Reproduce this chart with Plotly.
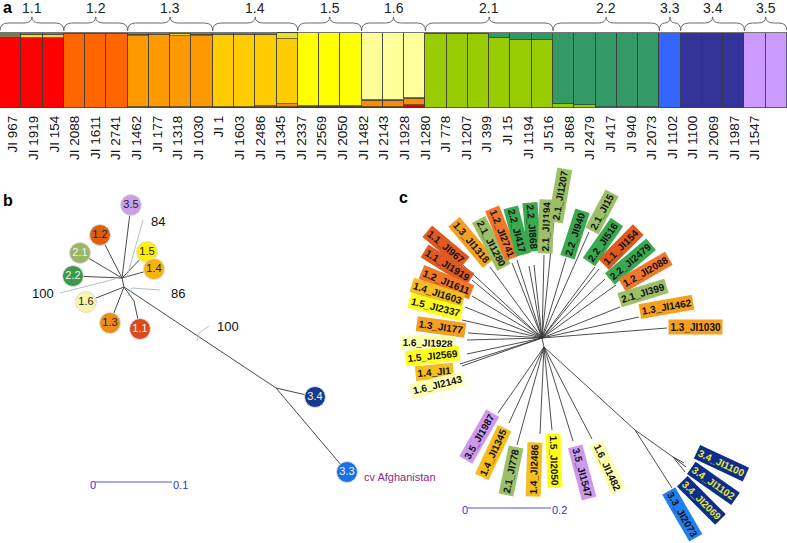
import plotly.graph_objects as go

FONT = "Liberation Sans, Arial, sans-serif"

# ---------------- panel a: admixture bars ----------------
bar_group = (["1.1"] * 3 + ["1.2"] * 3 + ["1.3"] * 4 + ["1.4"] * 4 + ["1.5"] * 3 + ["1.6"] * 3
             + ["2.1"] * 6 + ["2.2"] * 5 + ["3.3"] + ["3.4"] * 3 + ["3.5"] * 2)

sample_labels = ["JI 967", "JI 1919", "JI 154", "JI 2088", "JI 1611", "JI 2741", "JI 1462", "JI 177",
                 "JI 1318", "JI 1030", "JI 1", "JI 1603", "JI 2486", "JI 1345", "JI 2337", "JI 2569",
                 "JI 2050", "JI 1482", "JI 2143", "JI 1928", "JI 1280", "JI 778", "JI 1207", "JI 399",
                 "JI 15", "JI 1194", "JI 516", "JI 868", "JI 2479", "JI 417", "JI 940", "JI 2073",
                 "JI 1102", "JI 1100", "JI 2069", "JI 1987", "JI 1547"]

# small admixture slivers (fractions), one value per bar
bot_red = [0, 0, 0, 0, 0, 0, 0, 0, 0, 0, 0.01, 0.01, 0.015, 0.02, 0.01, 0.01, 0.01, 0.02, 0.02, 0.04] + [0] * 17
bot_orange = [0, 0, 0, 0, 0, 0, 0, 0, 0, 0, 0.01, 0, 0.01, 0.03, 0, 0, 0, 0.07, 0.07, 0.08] + [0] * 17
bot_olive = [0, 0, 0, 0, 0, 0, 0.01, 0.01, 0.01, 0.01, 0, 0, 0, 0, 0.02, 0.02, 0.02, 0.02, 0.02, 0.02] + [0] * 17
bot_lime = [0] * 26 + [0.05, 0.035, 0.02, 0.02, 0.015] + [0] * 6
top_green = [0] * 20 + [0.015, 0.01, 0.01, 0.07, 0.09, 0.09] + [0] * 11
top_yellow = [0, 0.03, 0.04, 0, 0, 0, 0.02, 0.01, 0.03, 0.02, 0, 0, 0, 0.07] + [0] * 23
top_olive = [0.07, 0.03, 0.02, 0.015, 0.01, 0.015, 0.02, 0.02, 0.01, 0.02, 0.02, 0.02, 0.02, 0.005] + [0] * 23

bar_colors = {"1.1": "#FE0000", "1.2": "#FF6600", "1.3": "#FF9900", "1.4": "#FFCC00",
              "1.5": "#FFFF00", "1.6": "#FFFF99", "2.1": "#99CC00", "2.2": "#339966",
              "3.3": "#3366FF", "3.4": "#333399", "3.5": "#CC99FF"}
OLIVE = "#807850"

# ---------------- panel b: cluster tree ----------------
b_names = ["H1", "H2", "J", "K", "3.5", "1.2", "2.1", "2.2", "1.5", "1.4", "1.6", "1.3", "1.1", "3.4", "3.3"]
b_x = [122, 124, 276, 134, 131, 100, 80, 73, 147, 154, 86, 110, 140, 315, 347]
b_y = [278, 287, 388, 301, 205, 235, 253, 276, 252, 269, 302, 323, 329, 397, 472]
b_parent = [None, "H1", "H2", "H2", "H1", "H1", "H1", "H1", "H1", "H1", "H2", "H2", "K", "J", "J"]
b_colors = {"3.5": "#C9A0E8", "1.2": "#DD6010", "2.1": "#9BB565", "2.2": "#3A9A4A", "1.5": "#FFF000",
            "1.4": "#F5B30A", "1.6": "#F8F4A8", "1.3": "#EE8C16", "1.1": "#DD4A1C",
            "3.4": "#143C8C", "3.3": "#1A70E6"}
b_light_text = ["2.1", "2.2", "1.1", "3.4", "3.3"]
boot_vals = ["84", "100", "86", "100"]
boot_text_x = [158, 43, 178, 228]
boot_text_y = [221, 293, 293, 326]
boot_line_x = [[143, 127], [60, 115], [160, 132, 128], [209, 199, 197]]
boot_line_y = [[220, 277], [293, 279], [290, 288, 296], [326, 333, 341]]

# ---------------- panel c: accession tree ----------------
c_labels = ["1.1_JI967", "1.1_JI1919", "1.2_JI1611", "1.4_JI1603", "1.5_JI2337", "1.3_JI177",
            "1.6_JI1928", "1.5_JI2569", "1.4_JI1", "1.6_JI2143", "1.3_JI1318", "2.1_JI1280",
            "1.2_JI2741", "2.2_JI417", "2.2_JI868", "2.1_JI1194", "2.1_JI1207", "2.2_JI940",
            "2.1_JI15", "2.2_JI516", "1.1_JI154", "2.2_JI2479", "1.2_JI2088", "2.1_JI399",
            "1.3_JI1462", "1.3_JI1030", "3.5_JI1987", "1.4_JI1345", "2.1_JI778", "1.4_JI2486",
            "1.5_JI2050", "3.5_JI1547", "1.6_JI1482", "3.4_JI1100", "3.4_JI1102", "3.4_JI2069",
            "3.3_JI2073"]
c_lab_x = [446, 447, 446, 437, 435, 441, 427, 432, 434, 437, 471, 491, 502, 517, 532, 546, 560, 575,
           602, 603, 621, 630, 645, 643, 666, 695, 479, 493, 511, 534, 554, 582, 607, 721, 713, 701, 682]
c_lab_y = [247, 265, 282, 293, 307, 327, 343, 356, 372, 385, 242, 243, 233, 231, 227, 227, 196, 234,
           212, 242, 247, 262, 272, 293, 307, 327, 437, 453, 471, 470, 460, 472, 467, 463, 483, 500, 514]
c_angle = [40, 32, 22, 18, 14, 8, 2, -6, -5, -14, 50, 62, 68, 75, 85, -88, -80, -72,
           -62, -55, -45, -40, -30, -17, -10, 0, -60, -65, -78, -88, 88, 75, 65, 25, 35, 45, 60]
c_tip_x = [463, 472, 472, 465, 462, 468, 467, 467, 460, 462, 490, 512, 517, 529, 534, 544, 554, 566,
           589, 595, 599, 605, 616, 620, 639, 667, 498, 509, 517, 540, 552, 573, 592, 684, 686, 685, 672]
c_tip_y = [265, 280, 296, 307, 320, 333, 340, 354, 364, 366, 267, 263, 260, 266, 265, 255, 220, 258,
           232, 267, 269, 279, 285, 307, 317, 328, 413, 423, 445, 434, 430, 441, 439, 463, 467, 472, 488]
c_hub = ["U"] * 26 + ["L"] * 7 + ["S34"] * 3 + ["S"]
c_hub_names = ["U", "L", "S", "S34"]
c_hub_x = [542, 544, 635, 673]
c_hub_y = [338, 347, 430, 457]
c_hub_parent = [None, "U", "L", "S"]
c_colors = {"1.1": "#E05A20", "1.2": "#F07828", "1.3": "#F5A020", "1.4": "#F5BE1E", "1.5": "#FFFF1A",
            "1.6": "#FFFFB0", "2.1": "#9CC068", "2.2": "#3AAA50", "3.3": "#2080F0", "3.4": "#0C2E8A",
            "3.5": "#CC99EE"}

fig = go.Figure()

# ---- panel a traces ----
n = len(bar_group)
xs = list(range(n))
main = [1 - sum(v) for v in zip(bot_red, bot_orange, bot_olive, bot_lime, top_green, top_yellow, top_olive)]
layers = [(bot_red, "#E00000"), (bot_orange, "#FF8C00"), (bot_olive, OLIVE), (bot_lime, bar_colors["2.1"]),
          (main, [bar_colors[g] for g in bar_group]), (top_green, bar_colors["2.2"]),
          (top_yellow, "#E8E020"), (top_olive, OLIVE)]
for vals, col in layers:
    fig.add_trace(go.Bar(x=xs, y=[v if v > 0 else None for v in vals], marker_color=col,
                         marker_line=dict(color="#3a3a3a", width=0.7), width=1,
                         xaxis="x2", yaxis="y2", showlegend=False, hoverinfo="skip"))
# carrier for the sample label axis
fig.add_trace(go.Scatter(x=[0, n - 1], y=[0.5, 0.5], mode="markers", marker_opacity=0,
                         xaxis="x3", yaxis="y2", showlegend=False, hoverinfo="skip"))

shapes = []
annotations = []
groups = []
for g in bar_group:
    if g not in groups:
        groups.append(g)
start = 0
for g in groups:
    cnt = bar_group.count(g)
    xa, xb = start - 0.5, start + cnt - 0.5
    xm = (xa + xb) / 2
    d = min(0.38, cnt / 4)
    path = (f"M {xa},1.03 Q {xa},1.133 {xa + d},1.133 L {xm - d},1.133 Q {xm},1.133 {xm},1.215 "
            f"Q {xm},1.133 {xm + d},1.133 L {xb - d},1.133 Q {xb},1.133 {xb},1.03")
    shapes.append(dict(type="path", path=path, xref="x2", yref="y2",
                       line=dict(color="#6a6a6a", width=1)))
    annotations.append(dict(x=xm, y=1.335, xref="x2", yref="y2", text=g, showarrow=False,
                            font=dict(family=FONT, size=14, color="#222")))
    start += cnt

# ---- panel b traces ----
ex, ey = [], []
for name, x, y, p in zip(b_names, b_x, b_y, b_parent):
    if p is None:
        continue
    i = b_names.index(p)
    ex += [b_x[i], x, None]
    ey += [b_y[i], y, None]
fig.add_trace(go.Scatter(x=ex, y=ey, mode="lines", line=dict(color="#4a4a4a", width=1),
                         showlegend=False, hoverinfo="skip"))
for lx, ly in zip(boot_line_x, boot_line_y):
    fig.add_trace(go.Scatter(x=lx, y=ly, mode="lines", line=dict(color="#B4C0CC", width=1),
                             showlegend=False, hoverinfo="skip"))
leaf = [i for i, nm in enumerate(b_names) if nm in b_colors]
fig.add_trace(go.Scatter(
    x=[b_x[i] for i in leaf], y=[b_y[i] for i in leaf], mode="markers+text",
    marker=dict(size=21, color=[b_colors[b_names[i]] for i in leaf], line=dict(color="#dddddd", width=1)),
    text=[b_names[i] for i in leaf], textposition="middle center",
    textfont=dict(family=FONT, size=11,
                  color=["#f4f4f4" if b_names[i] in b_light_text else "#222" for i in leaf]),
    showlegend=False, hoverinfo="skip"))
for t, x, y in zip(boot_vals, boot_text_x, boot_text_y):
    annotations.append(dict(x=x, y=y, xref="x", yref="y", text=t, showarrow=False,
                            font=dict(family=FONT, size=13, color="#111")))
annotations.append(dict(x=362, y=477, xref="x", yref="y", text="cv Afghanistan", showarrow=False,
                        xanchor="left", font=dict(family=FONT, size=11, color="#8B2A8B")))
# scale bar b
fig.add_trace(go.Scatter(x=[95, 172], y=[482, 482], mode="lines", line=dict(color="#5555CC", width=1),
                         showlegend=False, hoverinfo="skip"))
for t, x in [("0", 93), ("0.1", 180)]:
    annotations.append(dict(x=x, y=485, xref="x", yref="y", text=t, showarrow=False,
                            font=dict(family=FONT, size=11, color="#3333CC")))

# ---- panel c traces ----
cx, cy = [], []
for nm, x, y, p in zip(c_hub_names, c_hub_x, c_hub_y, c_hub_parent):
    if p is None:
        continue
    i = c_hub_names.index(p)
    cx += [c_hub_x[i], x, None]
    cy += [c_hub_y[i], y, None]
for h, x, y in zip(c_hub, c_tip_x, c_tip_y):
    i = c_hub_names.index(h)
    cx += [c_hub_x[i], x, None]
    cy += [c_hub_y[i], y, None]
fig.add_trace(go.Scatter(x=cx, y=cy, mode="lines", line=dict(color="#3a3a3a", width=0.9),
                         showlegend=False, hoverinfo="skip"))
for lab, x, y, a in zip(c_labels, c_lab_x, c_lab_y, c_angle):
    g = lab.split("_")[0]
    annotations.append(dict(x=x, y=y, xref="x", yref="y", text=f"<b>{lab}</b>", showarrow=False,
                            textangle=a, bgcolor=c_colors[g], borderpad=1.5,
                            font=dict(family=FONT, size=10, color="#E8E838" if g == "3.4" else "#111")))
fig.add_trace(go.Scatter(x=[468, 551], y=[508, 508], mode="lines", line=dict(color="#5555CC", width=1),
                         showlegend=False, hoverinfo="skip"))
for t, x in [("0", 465), ("0.2", 559)]:
    annotations.append(dict(x=x, y=510, xref="x", yref="y", text=t, showarrow=False,
                            font=dict(family=FONT, size=11, color="#3333CC")))

# panel letters
for t, x, y in [("a", 7, 7), ("b", 8, 200), ("c", 403, 197)]:
    annotations.append(dict(x=x, y=y, xref="x", yref="y", text=f"<b>{t}</b>", showarrow=False,
                            font=dict(family=FONT, size=16, color="#000")))

hidden = dict(visible=False, showgrid=False, zeroline=False, fixedrange=True)
fig.update_layout(
    width=787, height=543,
    margin=dict(l=0, r=0, t=0, b=0),
    paper_bgcolor="white", plot_bgcolor="rgba(0,0,0,0)",
    barmode="stack", bargap=0,
    xaxis=dict(range=[0, 787], domain=[0, 1], **hidden),
    yaxis=dict(range=[543, 0], domain=[0, 1], **hidden),
    xaxis2=dict(range=[-0.5, n - 0.5], domain=[0, 1], anchor="y2", **hidden),
    yaxis2=dict(range=[0, 1.44], domain=[1 - 108 / 543, 1], anchor="x2", **hidden),
    xaxis3=dict(range=[-0.631, 37.56], overlaying="x2", anchor="y2", side="bottom",
                tickvals=xs, ticktext=sample_labels, tickangle=-90, ticks="", showline=False,
                showgrid=False, zeroline=False, fixedrange=True, ticklabelstandoff=4,
                tickfont=dict(family=FONT, size=13.5, color="#111")),
    shapes=shapes,
    annotations=annotations,
)

# the page body has a default 8px margin; drop it so the figure sits at the window corner
fig.write_html("out.html", config={"displayModeBar": False},
               post_script="document.body.style.margin='0';")
